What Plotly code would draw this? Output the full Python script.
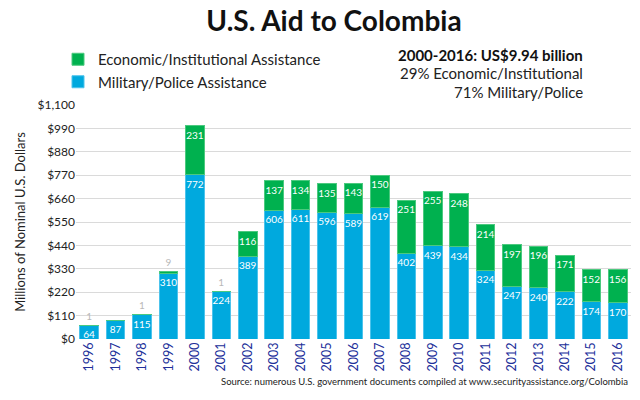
import plotly.graph_objects as go

years = [str(y) for y in range(1996, 2017)]
military = [64, 87, 115, 310, 772, 224, 389, 606, 611, 596, 589, 619, 402, 439, 434, 324, 247, 240, 222, 174, 170]
economic = [1, 0, 1, 9, 231, 1, 116, 137, 134, 135, 143, 150, 251, 255, 248, 214, 197, 196, 171, 152, 156]
yticks = list(range(0, 1101, 110))
ytick_labels = ["$" + format(v, ",") for v in yticks]

GREEN = "#00b14f"
BLUE = "#00a9de"
FONT = "Lato"

L, R, T, B = 76, 9, 105, 61
PW, PH = 640 - L - R, 400 - T - B


def px(x):
    return (x - L) / PW


def py(y):
    return (400 - B - y) / PH


econ_text = ["" if v == 0 else str(v) for v in economic]
econ_pos = ["outside" if v < 20 else "inside" for v in economic]

fig = go.Figure()
fig.add_trace(go.Bar(
    x=years, y=military, name="Military/Police Assistance",
    marker=dict(color=BLUE, line=dict(color="#4cc3ec", width=1)),
    text=[str(v) for v in military], textposition="inside",
    insidetextanchor="end", constraintext="none", textangle=0,
    textfont=dict(color="white", size=10, family=FONT),
    hoverinfo="skip",
))
fig.add_trace(go.Bar(
    x=years, y=economic, name="Economic/Institutional Assistance",
    marker=dict(color=GREEN, line=dict(color="#4cc97f", width=1)),
    text=econ_text, textposition=econ_pos,
    insidetextanchor="end", constraintext="none", textangle=0,
    insidetextfont=dict(color="white", size=10, family=FONT),
    outsidetextfont=dict(color="#b8b8b8", size=10, family=FONT),
    cliponaxis=False,
    hoverinfo="skip",
))

fig.update_layout(
    width=640, height=400,
    barmode="stack", bargap=0.30,
    paper_bgcolor="white", plot_bgcolor="white",
    margin=dict(l=L, r=R, t=T, b=B, autoexpand=False),
    font=dict(family=FONT, color="#222"),
    title=dict(text="<b>U.S. Aid to Colombia</b>", x=334 / 640, xanchor="center",
               y=1 - 21 / 400, yanchor="middle", font=dict(size=28, color="#111", family=FONT)),
    showlegend=True,
    legend=dict(x=px(58), y=py(43),
                xanchor="left", yanchor="top", traceorder="reversed",
                font=dict(size=15, color="#222", family=FONT),
                bgcolor="rgba(0,0,0,0)", tracegroupgap=0, itemwidth=30),
    xaxis=dict(type="category", tickangle=-90, tickfont=dict(size=12.5, color="#22309a", family=FONT),
               showgrid=False, ticks="", showline=False),
    yaxis=dict(range=[0, 1100], tickvals=yticks, ticktext=ytick_labels,
               tickfont=dict(size=12, color="#222", family=FONT),
               gridcolor="#dadada", gridwidth=1, zeroline=False, ticks="",
               title=dict(text="Millions of Nominal U.S. Dollars", standoff=8,
                          font=dict(size=13, color="#222", family=FONT))),
    annotations=[
        dict(text="<b>2000-2016: US$9.94 billion</b>", xref="paper", yref="paper",
             x=px(585), y=py(55), xanchor="right", yanchor="middle",
             showarrow=False, font=dict(size=15, color="#111", family=FONT)),
        dict(text="29% Economic/Institutional", xref="paper", yref="paper",
             x=px(585), y=py(73), xanchor="right", yanchor="middle",
             showarrow=False, font=dict(size=15, color="#222", family=FONT)),
        dict(text="71% Military/Police", xref="paper", yref="paper",
             x=px(585), y=py(92), xanchor="right", yanchor="middle",
             showarrow=False, font=dict(size=15, color="#222", family=FONT)),
        dict(text="Source: numerous U.S. government documents compiled at www.securityassistance.org/Colombia",
             xref="paper", yref="paper", x=px(630), y=py(381),
             xanchor="right", yanchor="middle", showarrow=False,
             font=dict(size=9.5, color="#222", family=FONT)),
    ],
)

fig.write_html("out.html")
